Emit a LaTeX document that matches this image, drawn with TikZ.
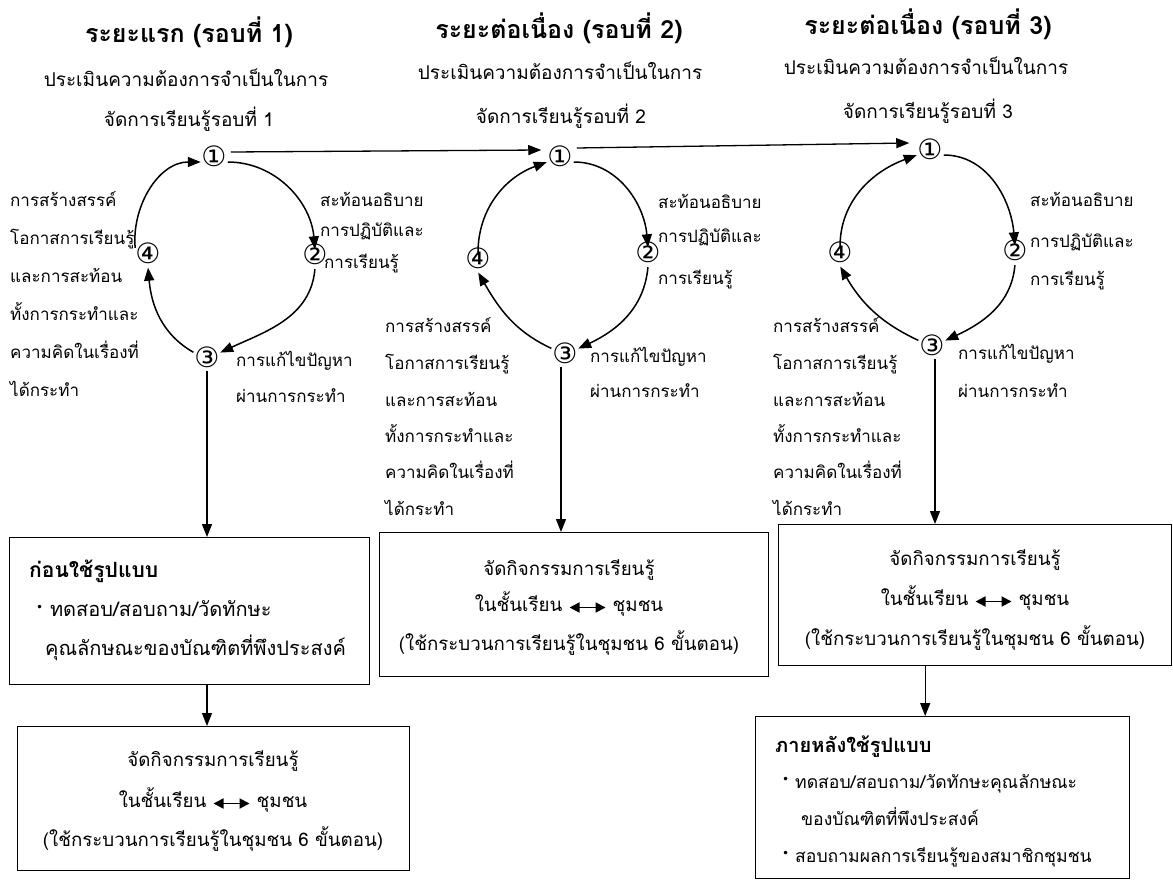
\documentclass[tikz,border=0pt]{standalone}
\usepackage{fontspec}
\newfontfamily\thai[Script=Thai]{Loma}
\newfontfamily\dejavu{DejaVu Sans}
\usetikzlibrary{arrows.meta}
\tikzset{
  tx/.style={font=\thai\fontsize{17}{20}\selectfont, inner sep=0pt, text height=12pt, text depth=4pt},
  lt/.style={tx, anchor=west},
  sub/.style={font=\thai\fontsize{19}{22}\selectfont, inner sep=0pt, text height=13pt, text depth=4pt},
  bx/.style={font=\thai\fontsize{18.7}{22}\selectfont, inner sep=0pt, text height=13pt, text depth=4pt},
  bxl/.style={font=\thai\fontsize{20}{24}\selectfont, inner sep=0pt, text height=14pt, text depth=4pt, anchor=west},
  bxr/.style={font=\thai\fontsize{17.6}{21}\selectfont, inner sep=0pt, text height=13pt, text depth=4pt, anchor=west},
  ttl/.style={font=\thai\bfseries\fontsize{25}{28}\selectfont, inner sep=0pt, text height=17pt, text depth=5pt},
  hd/.style={font=\thai\bfseries\fontsize{#1}{24}\selectfont, inner sep=0pt, anchor=west, text height=14pt, text depth=4pt},
  num/.style={font=\dejavu\fontsize{28}{30}\selectfont, inner sep=0pt, text height=14pt, text depth=4pt},
  cyc/.style={-{Triangle[length=13pt,width=10pt]}, line width=1.5pt, shorten >=0.5pt, shorten <=1pt},
  flow/.style={-{Triangle[length=13pt,width=10pt]}, line width=1.3pt},
  boxst/.style={draw, line width=1.4pt, anchor=north west, inner sep=0pt},
}
\newcommand{\lr}{\tikz[baseline=-4pt]\draw[{Triangle[length=10pt,width=10pt]}-{Triangle[length=10pt,width=10pt]}, line width=1.8pt] (0,0) -- (36pt,0);}
\newcommand{\bul}{{\dejavu\fontsize{12}{12}\selectfont\raisebox{5pt}{•}}}
\begin{document}
\begin{tikzpicture}[x=1pt,y=1pt]
\useasboundingbox (0,0) rectangle (1173,-880);
\fill[white] (0,0) rectangle (1173,-880);
\clip (0,0) rectangle (1173,-880);

% ---------- titles ----------
\node[ttl] (t1) at (189,-37) {ระยะแรก (รอบที่ 1)};
\node[ttl] (t2) at (559,-33) {ระยะต่อเนื่อง (รอบที่ 2)};
\node[ttl] (t3) at (928,-29) {ระยะต่อเนื่อง (รอบที่ 3)};
\node[sub] (s1a) at (186,-82) {ประเมินความต้องการจำเป็นในการ};
\node[sub] (s1b) at (189,-122) {จัดการเรียนรู้รอบที่ 1};
\node[sub] (s2a) at (560,-75) {ประเมินความต้องการจำเป็นในการ};
\node[sub] (s2b) at (561,-119) {จัดการเรียนรู้รอบที่ 2};
\node[sub] (s3a) at (926,-70) {ประเมินความต้องการจำเป็นในการ};
\node[sub] (s3b) at (928,-114) {จัดการเรียนรู้รอบที่ 3};

% ---------- cycle 1 ----------
\node[num] (a1) at (214,-162) {①};
\node[num] (a2) at (315,-259) {②};
\node[num] (a3) at (207,-362) {③};
\node[num] (a4) at (148,-258) {④};
\draw[cyc] (a1.east) to[out=0,in=95] (a2.north);
\draw[cyc] (a2.south) to[out=-95,in=25] (a3.north east);
\draw[cyc] (a3.north west) to[out=150,in=-85] (a4.south);
\draw[cyc] (a4.north west) to[out=95,in=180] (a1.west);

\node[lt] at (320,-203) {สะท้อนอธิบาย};
\node[lt] at (320,-232) {การปฏิบัติและ};
\node[lt] at (324,-264) {การเรียนรู้};
\node[lt] at (236,-362) {การแก้ไขปัญหา};
\node[lt] at (236,-398) {ผ่านการกระทำ};
\node[lt] at (10,-202) {การสร้างสรรค์};
\node[lt] at (10,-240) {โอกาสการเรียนรู้};
\node[lt] at (10,-278) {และการสะท้อน};
\node[lt] at (10,-316) {ทั้งการกระทำและ};
\node[lt] at (10,-354) {ความคิดในเรื่องที่};
\node[lt] at (10,-392) {ได้กระทำ};

% ---------- cycle 2 ----------
\node[num] (b1) at (560,-162) {①};
\node[num] (b2) at (648,-257) {②};
\node[num] (b3) at (565,-358) {③};
\node[num] (b4) at (478,-263) {④};
\draw[cyc] (b1.east) to[out=0,in=95] (b2.north);
\draw[cyc] (b2.south) to[out=-95,in=25] (b3.north east);
\draw[cyc] (b3.north west) to[out=155,in=-60] (b4.south);
\draw[cyc] (b4.north) to[out=90,in=200] (b1.west);

\node[lt] at (658,-204) {สะท้อนอธิบาย};
\node[lt] at (658,-238) {การปฏิบัติและ};
\node[lt] at (658,-280) {การเรียนรู้};
\node[lt] at (590,-358) {การแก้ไขปัญหา};
\node[lt] at (590,-393) {ผ่านการกระทำ};
\node[lt] at (385,-328) {การสร้างสรรค์};
\node[lt] at (385,-365) {โอกาสการเรียนรู้};
\node[lt] at (385,-402) {และการสะท้อน};
\node[lt] at (385,-438) {ทั้งการกระทำและ};
\node[lt] at (385,-474) {ความคิดในเรื่องที่};
\node[lt] at (385,-511) {ได้กระทำ};

% ---------- cycle 3 ----------
\node[num] (c1) at (930,-155) {①};
\node[num] (c2) at (1015,-255) {②};
\node[num] (c3) at (932,-350) {③};
\node[num] (c4) at (840,-257) {④};
\draw[cyc] (c1.east) to[out=0,in=95] (c2.north);
\draw[cyc] (c2.south) to[out=-95,in=25] (c3.north east);
\draw[cyc] (c3.north west) to[out=155,in=-60] (c4.south);
\draw[cyc] (c4.north) to[out=90,in=200] (c1.west);

\node[lt] at (1030,-203) {สะท้อนอธิบาย};
\node[lt] at (1030,-243) {การปฏิบัติและ};
\node[lt] at (1030,-281) {การเรียนรู้};
\node[lt] at (958,-355) {การแก้ไขปัญหา};
\node[lt] at (958,-393) {ผ่านการกระทำ};
\node[lt] at (773,-328) {การสร้างสรรค์};
\node[lt] at (773,-365) {โอกาสการเรียนรู้};
\node[lt] at (773,-402) {และการสะท้อน};
\node[lt] at (773,-438) {ทั้งการกระทำและ};
\node[lt] at (773,-474) {ความคิดในเรื่องที่};
\node[lt] at (773,-511) {ได้กระทำ};

% ---------- links between rounds ----------
\draw[flow] ([xshift=4pt,yshift=10pt]a1.east) -- ([xshift=-6pt,yshift=12pt]b1.west);
\draw[flow] ([xshift=4pt,yshift=14pt]b1.east) -- ([xshift=-8pt,yshift=12pt]c1.west);

% ---------- boxes ----------
\node[boxst, minimum width=360pt, minimum height=147pt] (B1) at (9,-537) {};
\node[boxst, minimum width=392pt, minimum height=144pt] (B2) at (17,-726) {};
\node[boxst, minimum width=389pt, minimum height=144pt] (B3) at (379,-532) {};
\node[boxst, minimum width=393pt, minimum height=141pt] (B4) at (778,-524) {};
\node[boxst, minimum width=374pt, minimum height=162pt] (B5) at (755,-716) {};

\node[hd=21] at (29,-572) {ก่อนใช้รูปแบบ};
\node[bxl] at (36,-611) {\bul\ ทดสอบ/สอบถาม/วัดทักษะ};
\node[bxl] at (45,-650) {คุณลักษณะของบัณฑิตที่พึงประสงค์};

\node[bx] at (213,-762) {จัดกิจกรรมการเรียนรู้};
\node[bx] at (213,-803) {ในชั้นเรียน \lr{} ชุมชน};
\node[bx] at (213,-842) {(ใช้กระบวนการเรียนรู้ในชุมชน 6 ขั้นตอน)};

\node[bx] at (569,-571) {จัดกิจกรรมการเรียนรู้};
\node[bx] at (569,-607) {ในชั้นเรียน \lr{} ชุมชน};
\node[bx] at (569,-646) {(ใช้กระบวนการเรียนรู้ในชุมชน 6 ขั้นตอน)};

\node[bx] at (975,-561) {จัดกิจกรรมการเรียนรู้};
\node[bx] at (975,-601) {ในชั้นเรียน \lr{} ชุมชน};
\node[bx] at (975,-641) {(ใช้กระบวนการเรียนรู้ในชุมชน 6 ขั้นตอน)};

\node[hd=20] at (775,-747) {ภายหลังใช้รูปแบบ};
\node[bxr] at (782,-784) {\bul\ ทดสอบ/สอบถาม/วัดทักษะคุณลักษณะ};
\node[bxr] at (801,-821) {ของบัณฑิตที่พึงประสงค์};
\node[bxr] at (782,-858) {\bul\ สอบถามผลการเรียนรู้ของสมาชิกชุมชน};

% ---------- vertical flow ----------
\draw[flow] (a3.south) -- (a3.south |- B1.north);
\draw[flow] (b3.south) ++(-4pt,0) coordinate (b3d) -- (b3d |- B3.north);
\draw[flow] (c3.south) ++(3pt,0) coordinate (c3d) -- (c3d |- B4.north);
\draw[flow] (B1.south -| a3) coordinate (b1d) -- (b1d |- B2.north);
\draw[flow] ([xshift=-50pt]B4.south) coordinate (b4d) -- (b4d |- B5.north);
\end{tikzpicture}
\end{document}
